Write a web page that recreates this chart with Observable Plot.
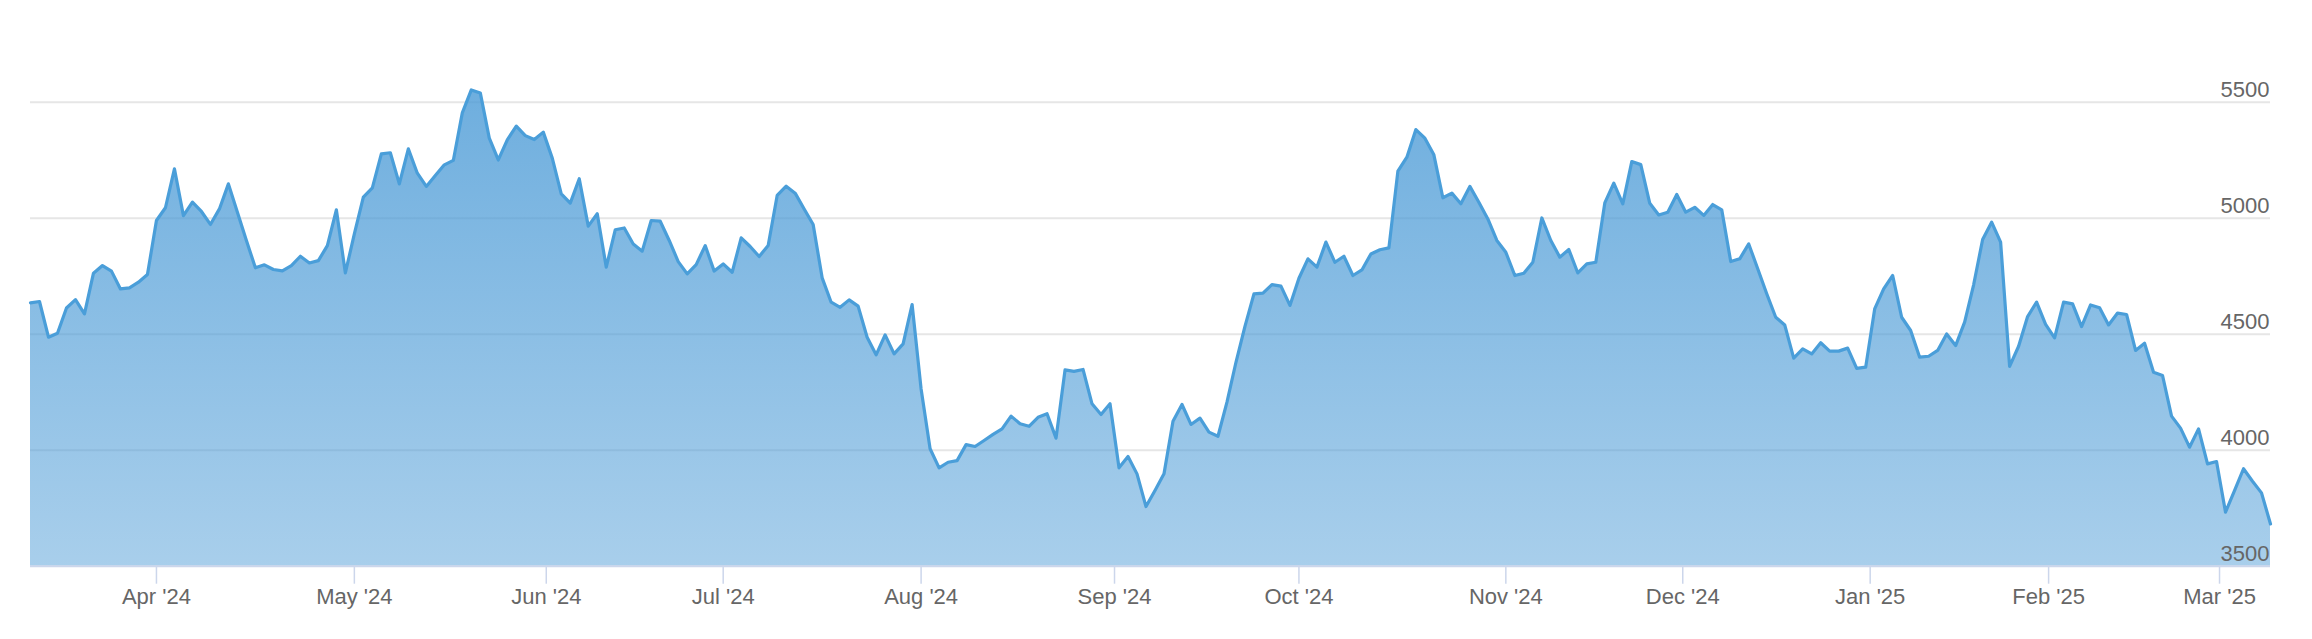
<!DOCTYPE html>
<html>
<head>
<meta charset="utf-8">
<script src="https://cdn.jsdelivr.net/npm/d3@7"></script>
<script src="https://cdn.jsdelivr.net/npm/@observablehq/plot@0.6"></script>
<style>
  html, body { margin: 0; padding: 0; background: #fff; overflow: hidden; }
  #chart svg { display: block; }
</style>
</head>
<body>
<div id="chart"></div>
<script>
// ---- Data: daily closes by month (trading days) ----
const mar24 = [4635, 4641, 4487, 4504, 4613, 4649, 4588, 4763, 4796, 4772, 4695, 4700, 4724, 4757];
const apr24 = [4990, 5045, 5213, 5011, 5069, 5029, 4973, 5040, 5148, 5026, 4904, 4786, 4799, 4779, 4773, 4796, 4836, 4807, 4817, 4882, 5036, 4764];
const may24 = [4932, 5091, 5131, 5277, 5282, 5148, 5299, 5194, 5137, 5184, 5230, 5249, 5454, 5553, 5540, 5345, 5251, 5338, 5397, 5356, 5339, 5371];
const jun24 = [5259, 5105, 5065, 5170, 4966, 5019, 4789, 4950, 4958, 4889, 4858, 4990, 4987, 4904, 4813, 4760, 4800, 4882, 4772];
const jul24 = [4803, 4767, 4915, 4878, 4835, 4882, 5098, 5138, 5108, 5040, 4973, 4743, 4638, 4616, 4648, 4621, 4487, 4411, 4497, 4415, 4458, 4628];
const aug24 = [4264, 4006, 3924, 3948, 3955, 4024, 4016, 4042, 4068, 4092, 4147, 4114, 4103, 4142, 4157, 4052, 4346, 4340, 4348, 4200, 4154, 4200];
const sep24 = [3924, 3973, 3898, 3757, 3826, 3898, 4125, 4197, 4111, 4138, 4078, 4060, 4207, 4379, 4534, 4674, 4677, 4714, 4707, 4624];
const oct24 = [4741, 4825, 4789, 4897, 4810, 4836, 4753, 4777, 4846, 4864, 4872, 5203, 5263, 5382, 5345, 5273, 5088, 5108, 5062, 5137, 5069, 4997, 4904];
const nov24 = [4853, 4753, 4763, 4810, 5001, 4904, 4832, 4865, 4764, 4803, 4810, 5066, 5151, 5062, 5244, 5231, 5064, 5014, 5026, 5102];
const dec24 = [5026, 5047, 5012, 5059, 5036, 4813, 4825, 4889, 4782, 4674, 4573, 4540, 4397, 4437, 4415, 4463, 4427, 4427, 4440, 4353, 4358];
const jan25 = [4609, 4695, 4753, 4573, 4516, 4401, 4405, 4430, 4501, 4451, 4552, 4713, 4908, 4983, 4897, 4361, 4448, 4576, 4638, 4542];
const feb25 = [4484, 4638, 4631, 4533, 4626, 4614, 4540, 4591, 4585, 4430, 4461, 4336, 4322, 4147, 4095, 4013, 4092, 3941, 3951];
const mar25 = [3733, 3826, 3920, 3866, 3816, 3682];

// ---- Calendar ----
const startDate = "2024-03-11";
const holidays = ["2024-03-29", "2024-05-27", "2024-06-19", "2024-07-04", "2024-09-02",
                  "2024-11-28", "2024-12-25", "2025-01-01", "2025-01-09", "2025-01-20", "2025-02-17"];

// ---- Axis ticks ----
const yTicks = [3500, 4000, 4500, 5000, 5500];
const monthStarts = ["2024-04-01", "2024-05-01", "2024-06-01", "2024-07-01", "2024-08-01", "2024-09-01",
                     "2024-10-01", "2024-11-01", "2024-12-01", "2025-01-01", "2025-02-01", "2025-03-01"];
const monthLabels = ["Apr '24", "May '24", "Jun '24", "Jul '24", "Aug '24", "Sep '24",
                     "Oct '24", "Nov '24", "Dec '24", "Jan '25", "Feb '25", "Mar '25"];

const values = [mar24, apr24, may24, jun24, jul24, aug24, sep24, oct24, nov24, dec24, jan25, feb25, mar25].flat();

const hol = new Set(holidays);
const dates = [];
for (let t = Date.parse(startDate + "T00:00:00Z"); dates.length < values.length; t += 864e5) {
  const d = new Date(t);
  const wd = d.getUTCDay();
  if (wd !== 0 && wd !== 6 && !hol.has(d.toISOString().slice(0, 10))) dates.push(d);
}
const data = values.map((v, i) => ({i, date: dates[i], v}));

// ordinal (trading-day) positions for calendar dates
const ordinal = d3.scaleLinear().domain(dates.map(d => +d)).range(d3.range(dates.length));
const tickPos = monthStarts.map(s => ordinal(Date.parse(s + "T00:00:00Z")));
const tickLabel = new Map(tickPos.map((p, k) => [p, monthLabels[k]]));

const chart = Plot.plot({
  width: 2312,
  height: 639,
  marginLeft: 30,
  marginRight: 42,
  marginTop: 101.7,
  marginBottom: 73.3,
  x: {type: "linear", domain: [0, values.length - 1]},
  y: {domain: [3500, 5500]},
  style: {fontFamily: "'Liberation Sans', Arial, Helvetica, sans-serif", fontSize: "22px", background: "#fff", overflow: "visible"},
  marks: [
    Plot.gridY(yTicks.slice(1), {stroke: "#e6e6e6", strokeOpacity: 1, strokeWidth: 2}),
    Plot.areaY(data, {x: "i", y1: 3500, y2: "v", fill: "url(#areaGrad)"}),
    Plot.lineY(data, {x: "i", y: "v", stroke: "#4a9ed9", strokeWidth: 3.2}),
    Plot.ruleY([3500], {stroke: "#ccd6eb", strokeWidth: 2}),
    Plot.axisX(tickPos, {anchor: "bottom", tickSize: 18, tickPadding: 4, color: "#ccd6eb", strokeWidth: 1.5,
                         tickFormat: d => tickLabel.get(d), label: null}),
    Plot.axisY(yTicks, {anchor: "right", tickSize: 0, tickPadding: 0, textAnchor: "end", lineAnchor: "bottom",
                        dx: -1, dy: -5, color: "#666", label: null, tickFormat: d => String(d)})
  ]
});

const root = d3.select(chart);
root.selectAll('g[aria-label="x-axis tick label"]').attr("fill", "#666");
const defs = root.insert("defs", ":first-child");
const grad = defs.append("linearGradient").attr("id", "areaGrad")
  .attr("x1", 0).attr("y1", 0).attr("x2", 0).attr("y2", 1);
grad.append("stop").attr("offset", 0).attr("stop-color", "#4a9ad6").attr("stop-opacity", 0.8);
grad.append("stop").attr("offset", 1).attr("stop-color", "#4a9ad6").attr("stop-opacity", 0.48);

document.getElementById("chart").appendChild(chart);
</script>
</body>
</html>
